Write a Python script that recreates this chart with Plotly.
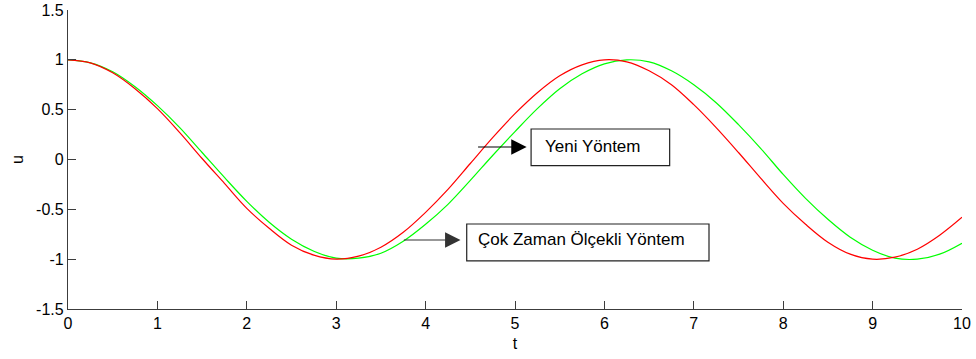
import plotly.graph_objects as go

# Sample times and solution values for the two methods
t_vals = [0.0, 0.25, 0.5, 0.75, 1.0, 1.25, 1.5, 1.75, 2.0, 2.25, 2.5, 2.75, 3.0,
          3.25, 3.5, 3.75, 4.0, 4.25, 4.5, 4.75, 5.0, 5.25, 5.5, 5.75, 6.0,
          6.25, 6.5, 6.75, 7.0, 7.25, 7.5, 7.75, 8.0, 8.25, 8.5, 8.75, 9.0,
          9.25, 9.5, 9.75, 10.0]

u_yeni = [1.00, 0.97, 0.87, 0.71, 0.51, 0.27, 0.01, -0.24, -0.49, -0.69, -0.86,
          -0.96, -1.00, -0.97, -0.88, -0.73, -0.53, -0.30, -0.04, 0.22, 0.46,
          0.67, 0.84, 0.95, 1.00, 0.98, 0.89, 0.75, 0.55, 0.32, 0.07, -0.19,
          -0.44, -0.65, -0.83, -0.95, -1.00, -0.98, -0.90, -0.76, -0.58]

u_cok = [1.00, 0.97, 0.88, 0.73, 0.54, 0.32, 0.07, -0.18, -0.42, -0.63, -0.80,
         -0.92, -0.99, -0.99, -0.94, -0.82, -0.65, -0.45, -0.21, 0.04, 0.28,
         0.51, 0.71, 0.86, 0.96, 1.00, 0.98, 0.89, 0.75, 0.57, 0.35, 0.11,
         -0.15, -0.39, -0.60, -0.78, -0.91, -0.99, -1.00, -0.95, -0.84]

x_ticks = [0, 1, 2, 3, 4, 5, 6, 7, 8, 9, 10]
y_ticks = [-1.5, -1.0, -0.5, 0.0, 0.5, 1.0, 1.5]
y_tick_text = ["-1.5", "-1", "-0.5", "0", "0.5", "1", "1.5"]

label_yeni = "Yeni Yöntem"
label_cok = "Çok Zaman Ölçekli Yöntem"

FONT = "Liberation Sans, Arial, sans-serif"
AXIS_COLOR = "#3c3c3c"

fig = go.Figure()
fig.add_trace(go.Scatter(x=t_vals, y=u_cok, mode="lines",
                         line=dict(color="#00ff00", width=1.2, shape="spline"),
                         showlegend=False, hoverinfo="skip"))
fig.add_trace(go.Scatter(x=t_vals, y=u_yeni, mode="lines",
                         line=dict(color="#ff0000", width=1.2, shape="spline"),
                         showlegend=False, hoverinfo="skip"))

# Label boxes
fig.add_shape(type="rect", xref="x", yref="y", x0=5.18, x1=6.73, y0=-0.062, y1=0.306,
              line=dict(color="#222222", width=1.2), fillcolor="rgba(0,0,0,0)")
fig.add_shape(type="rect", xref="x", yref="y", x0=4.46, x1=7.17, y0=-1.018, y1=-0.647,
              line=dict(color="#222222", width=1.2), fillcolor="rgba(0,0,0,0)")

# Box texts
fig.add_annotation(x=5.31, y=0.13, xref="x", yref="y", text=label_yeni, showarrow=False,
                   xanchor="left", yanchor="middle", font=dict(family=FONT, size=17, color="#000"))
fig.add_annotation(x=4.56, y=-0.80, xref="x", yref="y", text=label_cok, showarrow=False,
                   xanchor="left", yanchor="middle", font=dict(family=FONT, size=17, color="#000"))

# Arrows pointing to the boxes
fig.add_annotation(x=5.13, y=0.125, ax=4.57, ay=0.125, xref="x", yref="y", axref="x", ayref="y",
                   text="", showarrow=True, arrowhead=2, arrowsize=2.8, arrowwidth=1.1,
                   arrowcolor="#000")
fig.add_annotation(x=4.39, y=-0.807, ax=3.74, ay=-0.807, xref="x", yref="y", axref="x", ayref="y",
                   text="", showarrow=True, arrowhead=2, arrowsize=2.8, arrowwidth=1.1,
                   arrowcolor="#333")

fig.update_layout(
    width=976, height=359,
    margin=dict(l=68, r=14, t=10, b=50),
    paper_bgcolor="white", plot_bgcolor="white",
    font=dict(family=FONT, size=16, color="#000"),
    xaxis=dict(range=[0, 10], tickvals=x_ticks, ticks="inside", ticklen=8,
               tickcolor=AXIS_COLOR, showline=True, linecolor=AXIS_COLOR, linewidth=1.2,
               showgrid=False, zeroline=False, mirror=False, automargin=False,
               title=dict(text="t", standoff=6, font=dict(size=16))),
    yaxis=dict(range=[-1.5, 1.5], tickvals=y_ticks, ticktext=y_tick_text, ticks="inside",
               ticklen=8, tickcolor=AXIS_COLOR, showline=True, linecolor=AXIS_COLOR,
               linewidth=1.2, showgrid=False, zeroline=False, mirror=False, automargin=False,
               title=dict(text="u", standoff=8, font=dict(size=16))),
)

fig.write_html("out.html")

# Remove the default page margin so the figure sits at the window origin
with open("out.html", "r", encoding="utf-8") as fh:
    page = fh.read()
page = page.replace("<body>", '<body style="margin:0;padding:0;overflow:hidden">', 1)
with open("out.html", "w", encoding="utf-8") as fh:
    fh.write(page)
